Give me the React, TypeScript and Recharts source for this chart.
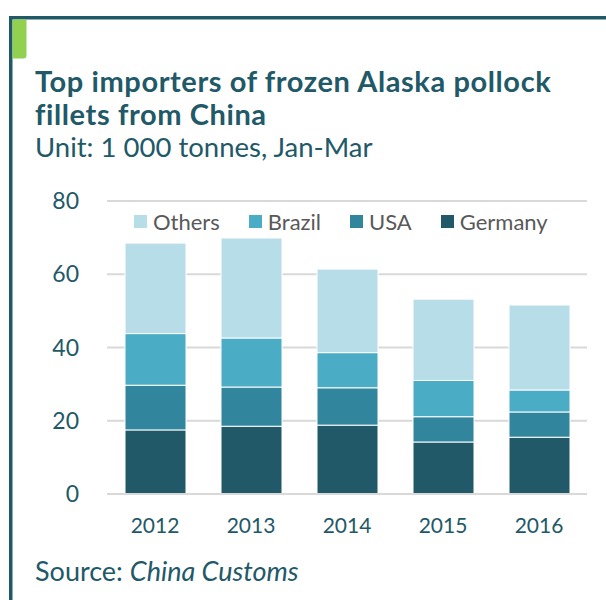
import { BarChart, Bar, XAxis, YAxis, CartesianGrid, Legend } from "recharts";

const years = ["2012", "2013", "2014", "2015", "2016"];
const germany = [17.5, 18.5, 18.8, 14.2, 15.5];
const usa = [12.2, 10.7, 10.2, 6.9, 6.9];
const brazil = [14.1, 13.4, 9.6, 9.9, 6.0];
const others = [24.7, 27.3, 22.8, 22.2, 23.2];
const yTicks = [0, 20, 40, 60, 80];

// stacking order: first is bottom
const series = [
  { key: "Germany", values: germany, color: "#215968" },
  { key: "USA", values: usa, color: "#31859C" },
  { key: "Brazil", values: brazil, color: "#4BACC6" },
  { key: "Others", values: others, color: "#B7DEE8" },
];

const data = years.map((year, i) => {
  const row: Record<string, string | number> = { year };
  series.forEach((s) => (row[s.key] = s.values[i]));
  return row;
});

const FONT = "Lato, sans-serif";
const TEAL = "#215968";

function LegendBox() {
  const items = [...series].reverse();
  return (
    <div style={{ display: "flex", alignItems: "center", fontFamily: FONT, fontSize: 22, color: "#595959" }}>
      {items.map((s) => (
        <div key={s.key} style={{ display: "flex", alignItems: "center", marginRight: 29 }}>
          <span style={{ width: 13, height: 13, background: s.color, marginRight: 6 }} />
          <span>{s.key}</span>
        </div>
      ))}
    </div>
  );
}

export default function App() {
  return (
    <div style={{ position: "absolute", left: 0, top: 0, width: 606, height: 600, background: "#fff", overflow: "hidden" }}>
      <svg width={606} height={600} style={{ position: "absolute", left: 0, top: 0 }}>
        <rect x={9} y={16} width={597} height={3.5} fill={TEAL} />
        <rect x={9} y={16} width={3.5} height={584} fill={TEAL} />
        <path d="M12.5 19.5 H26.5 V55.5 Q26.5 58.5 23.5 58.5 H12.5 Z" fill="#92D050" />
        <g fontFamily={FONT} fill={TEAL}>
          <text x={35} y={92} fontSize={29} fontWeight={700} letterSpacing={0.6}>
            Top importers of frozen Alaska pollock
          </text>
          <text x={35} y={125} fontSize={29} fontWeight={700} letterSpacing={0.6}>
            fillets from China
          </text>
          <text x={35} y={156.7} fontSize={27.5}>Unit: 1 000 tonnes, Jan-Mar</text>
          <text x={35} y={581} fontSize={27}>
            Source: <tspan fontStyle="italic">China Customs</tspan>
          </text>
        </g>
      </svg>
      <div style={{ position: "absolute", left: 0, top: 0 }}>
        <BarChart width={606} height={600} data={data} margin={{ top: 201, right: 19, left: 0, bottom: 76 }} barSize={61}>
          <CartesianGrid vertical={false} stroke="#D9D9D9" strokeWidth={2} />
          <XAxis
            dataKey="year"
            axisLine={{ stroke: "#D9D9D9", strokeWidth: 2 }}
            tickLine={false}
            height={30}
            tickMargin={18}
            tick={{ fill: TEAL, fontSize: 21, fontFamily: FONT }}
          />
          <YAxis
            domain={[0, 80]}
            ticks={yTicks}
            width={107}
            axisLine={false}
            tickLine={false}
            tickMargin={22}
            tick={{ fill: TEAL, fontSize: 23, fontFamily: FONT }}
          />
          <Legend
            layout="horizontal"
            verticalAlign="middle"
            align="center"
            wrapperStyle={{ top: 208, left: 134, width: "auto" }}
            content={() => <LegendBox />}
          />
          {series.map((s) => (
            <Bar
              key={s.key}
              dataKey={s.key}
              stackId="a"
              fill={s.color}
              stroke="#fff"
              strokeWidth={1}
              isAnimationActive={false}
            />
          ))}
        </BarChart>
      </div>
    </div>
  );
}
